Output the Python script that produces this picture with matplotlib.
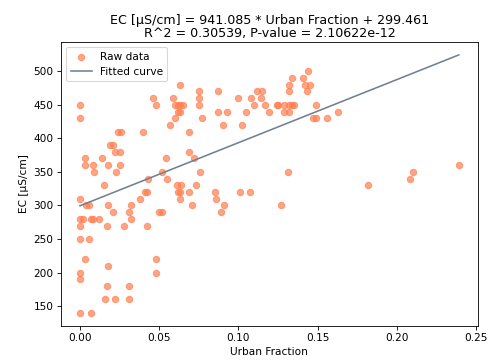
import matplotlib
matplotlib.use("Agg")
import matplotlib.pyplot as plt
import numpy as np

urban_fraction = [
    0.000, 0.000, 0.024, 0.026, 0.040, 0.019, 0.021, 0.022, 0.025, 0.003,
    0.014, 0.003, 0.008, 0.018, 0.025, 0.009, 0.023, 0.015, 0.043, 0.041,
    0.042, 0.038, 0.000, 0.004, 0.006, 0.018, 0.032, 0.021, 0.031, 0.032,
    0.000, 0.002, 0.007, 0.008, 0.012, 0.000, 0.017, 0.028, 0.042, 0.000,
    0.006, 0.003, 0.018, 0.000, 0.000, 0.017, 0.031, 0.016, 0.022, 0.031,
    0.000, 0.007, 0.048, 0.048, 0.050, 0.052, 0.046, 0.048, 0.057, 0.054,
    0.052, 0.055, 0.063, 0.059, 0.075, 0.087, 0.060, 0.062, 0.063, 0.065,
    0.062, 0.063, 0.075, 0.075, 0.060, 0.077, 0.069, 0.087, 0.093, 0.090,
    0.102, 0.100, 0.105, 0.108, 0.110, 0.112, 0.115, 0.114, 0.117, 0.119,
    0.069, 0.072, 0.076, 0.061, 0.064, 0.073, 0.062, 0.063, 0.063, 0.069,
    0.071, 0.085, 0.086, 0.091, 0.089, 0.101, 0.107, 0.144, 0.134, 0.141,
    0.132, 0.142, 0.145, 0.132, 0.143, 0.124, 0.125, 0.129, 0.132, 0.134,
    0.135, 0.129, 0.132, 0.149, 0.147, 0.149, 0.156, 0.163, 0.131, 0.127,
    0.182, 0.208, 0.210, 0.239,
]
ec_values = [
    450, 430, 410, 410, 410, 390, 390, 380, 380, 370,
    370, 360, 360, 360, 360, 350, 350, 330, 340, 320,
    320, 310, 310, 300, 300, 300, 300, 290, 290, 280,
    280, 280, 280, 280, 280, 270, 270, 270, 270, 250,
    250, 220, 210, 200, 190, 180, 180, 160, 160, 160,
    140, 140, 220, 200, 290, 290, 460, 450, 420, 370,
    350, 340, 480, 460, 470, 470, 450, 450, 450, 450,
    440, 440, 460, 450, 430, 430, 410, 440, 440, 420,
    420, 460, 440, 460, 450, 470, 470, 460, 450, 440,
    380, 370, 350, 330, 330, 330, 320, 320, 310, 320,
    300, 320, 310, 300, 290, 320, 320, 500, 490, 490,
    480, 480, 480, 470, 470, 450, 450, 450, 450, 450,
    450, 440, 440, 450, 430, 430, 430, 440, 350, 300,
    330, 340, 350, 360,
]
slope = 941.085
intercept = 299.461
r_squared = 0.30539
p_value = 2.10622e-12

dpi = 76
fig = plt.figure(figsize=(488 / dpi, 360 / dpi), dpi=dpi)
ax = fig.add_axes([0.125, 0.0953, 0.854, 0.788])

x = np.array(urban_fraction)
y = np.array(ec_values)
ax.scatter(x, y, color="coral", alpha=0.7, label="Raw data")
xl = np.array([x.min(), x.max()])
ax.plot(xl, slope * xl + intercept, color="slategray", linewidth=1.5, label="Fitted curve")

ax.set_xlabel("Urban Fraction")
ax.set_ylabel("EC [µS/cm]")
ax.set_title(f"EC [µS/cm] = {slope} * Urban Fraction + {intercept}\nR^2 = {r_squared}, P-value = {p_value}",
             fontsize=12, linespacing=0.95, pad=5)
ax.legend(loc="upper left")

fig.savefig("out.png", dpi=dpi)
